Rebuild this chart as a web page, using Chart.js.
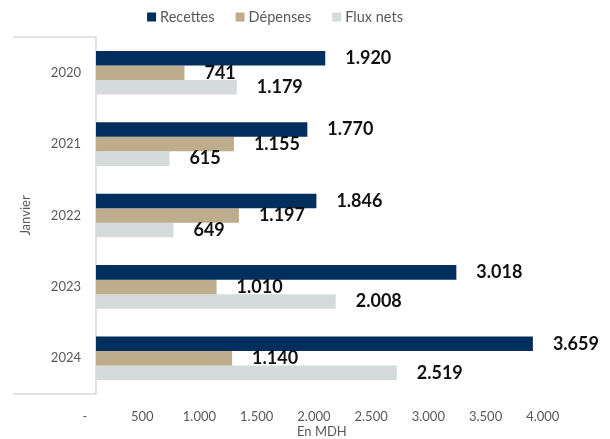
<!DOCTYPE html>
<html>
<head>
<meta charset="utf-8">
<script src="https://cdn.jsdelivr.net/npm/chart.js@4.4.1/dist/chart.umd.min.js"></script>
<style>
html,body{margin:0;padding:0;background:#fff;}
#wrap{width:610px;height:439px;position:relative;}
</style>
</head>
<body>
<div id="wrap"><canvas id="c" width="610" height="439"></canvas></div>
<script>
const years = ['2020', '2021', '2022', '2023', '2024'];
const recettes = [1920, 1770, 1846, 3018, 3659];
const depenses = [741, 1155, 1197, 1010, 1140];
const fluxNets = [1179, 615, 649, 2008, 2519];
const seriesNames = ['Recettes', 'Dépenses', 'Flux nets'];
const seriesColors = ['#002E5D', '#BDAD8D', '#D5DBDB'];
const axisTitle = 'En MDH';
const groupTitle = 'Janvier';

function fmt(v) {
  if (v === 0) return '-';
  const s = String(Math.round(v));
  return s.replace(/\B(?=(\d{3})+(?!\d))/g, '.');
}

const FONT = 'Lato, "Open Sans", sans-serif';
const GREY = '#595959';

const labelPlugin = {
  id: 'barLabels',
  afterDatasetsDraw(chart) {
    const ctx = chart.ctx;
    ctx.save();
    ctx.font = 'bold 18px ' + FONT;
    ctx.fillStyle = '#111111';
    ctx.textAlign = 'left';
    ctx.textBaseline = 'middle';
    chart.data.datasets.forEach((ds, i) => {
      const meta = chart.getDatasetMeta(i);
      meta.data.forEach((el, j) => {
        ctx.fillText(fmt(ds.data[j]), el.x + 20, el.y);
      });
    });
    ctx.restore();
  }
};

const framePlugin = {
  id: 'frame',
  beforeDatasetsDraw(chart) {
    const ctx = chart.ctx;
    const a = chart.chartArea;
    const x0 = chart.scales.x.getPixelForValue(0);
    ctx.save();
    ctx.strokeStyle = '#D9D9D9';
    ctx.lineWidth = 1.5;
    ctx.beginPath();
    ctx.moveTo(13, a.top);
    ctx.lineTo(x0, a.top);
    ctx.lineTo(x0, a.bottom);
    ctx.lineTo(13, a.bottom);
    ctx.stroke();
    ctx.restore();
  }
};

// custom legend + x-axis title (drawn as text)
const legendPlugin = {
  id: 'customLegend',
  afterDraw(chart) {
    const ctx = chart.ctx;
    ctx.save();
    ctx.font = '14.5px ' + FONT;
    ctx.textBaseline = 'middle';
    ctx.textAlign = 'left';
    const box = 9, gapText = 4, gapItem = 21;
    const widths = seriesNames.map(n => ctx.measureText(n).width);
    const total = widths.reduce((a, w) => a + box + gapText + w, 0) + gapItem * (seriesNames.length - 1);
    let x = 275 - total / 2;
    const y = 17;
    seriesNames.forEach((n, i) => {
      ctx.fillStyle = seriesColors[i];
      ctx.fillRect(x, y - box / 2, box, box);
      x += box + gapText;
      ctx.fillStyle = GREY;
      ctx.fillText(n, x, y);
      x += widths[i] + gapItem;
    });
    // axis title
    const xs = chart.scales.x2;
    ctx.font = '13px ' + FONT;
    ctx.textAlign = 'center';
    ctx.fillStyle = GREY;
    ctx.fillText(axisTitle, xs.getPixelForValue(2070), 432);
    ctx.restore();
  }
};

new Chart(document.getElementById('c'), {
  type: 'bar',
  data: {
    labels: years,
    datasets: [
      { label: seriesNames[0], data: recettes, backgroundColor: seriesColors[0], xAxisID: 'x' },
      { label: seriesNames[1], data: depenses, backgroundColor: seriesColors[1], xAxisID: 'x' },
      { label: seriesNames[2], data: fluxNets, backgroundColor: seriesColors[2], xAxisID: 'x' }
    ]
  },
  options: {
    indexAxis: 'y',
    responsive: false,
    animation: false,
    layout: { padding: { left: 13, right: 10, top: 37, bottom: 0 } },
    datasets: { bar: { categoryPercentage: 0.61, barPercentage: 1.0 } },
    plugins: {
      legend: { display: false },
      tooltip: { enabled: false }
    },
    scales: {
      x: {
        type: 'linear',
        display: false,
        min: -92,
        max: 4221
      },
      x2: {
        type: 'linear',
        position: 'bottom',
        min: 0,
        max: 4500,
        grid: { display: false, drawTicks: false },
        border: { display: false },
        afterFit(s) { s.height = 45; s.paddingLeft = 0; s.paddingRight = 0; },
        ticks: {
          stepSize: 500,
          padding: 15,
          color: GREY,
          font: { family: FONT, size: 13 },
          callback: (v) => (v > 4000 ? '' : fmt(v))
        },
        title: { display: false }
      },
      y: {
        grid: { display: false, drawTicks: false },
        border: { display: false },
        afterFit(s) { s.width = 72; },
        ticks: {
          padding: 4,
          color: GREY,
          font: { family: FONT, size: 13 }
        },
        title: {
          display: true,
          text: groupTitle,
          color: GREY,
          font: { family: FONT, size: 13 },
          padding: { top: 5, bottom: 0 }
        }
      }
    }
  },
  plugins: [labelPlugin, framePlugin, legendPlugin]
});
</script>
</body>
</html>
